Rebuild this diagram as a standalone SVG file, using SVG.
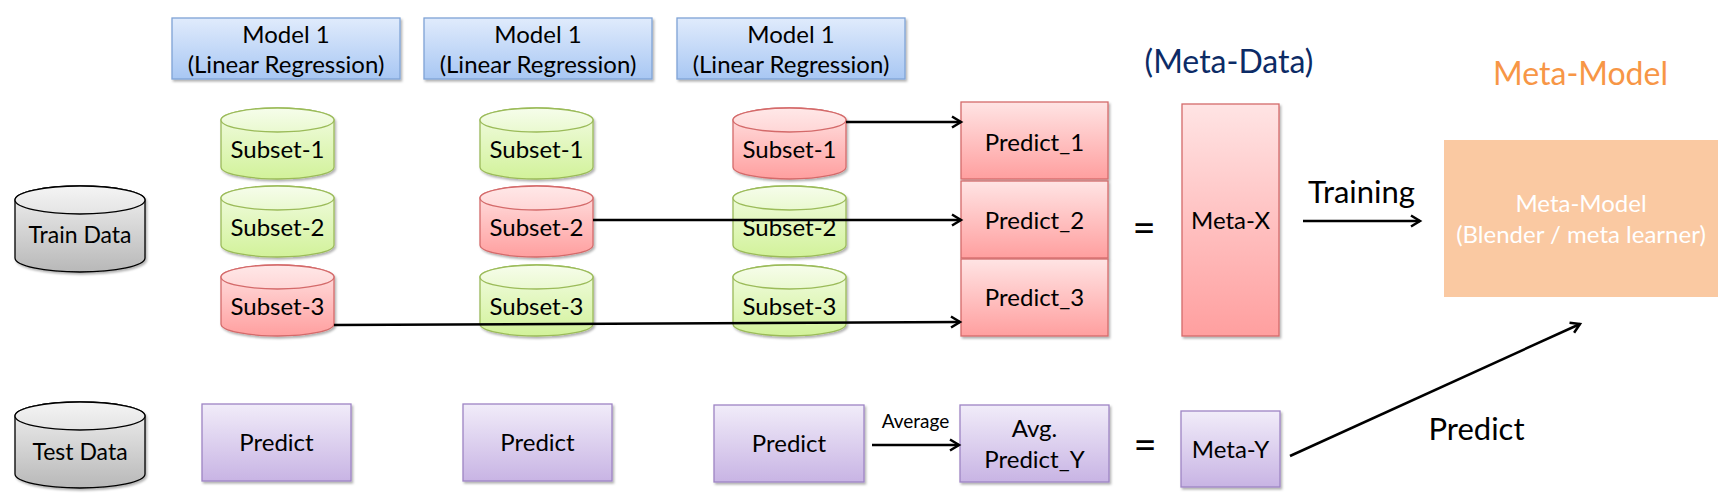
<svg xmlns="http://www.w3.org/2000/svg" xmlns:xlink="http://www.w3.org/1999/xlink" width="1731" height="499" viewBox="0 0 1731 499">
<style>
text{font-family:Lato,"Open Sans","Liberation Sans",sans-serif;text-anchor:middle;fill:#000}
.t24{font-size:24px}
.t23{font-size:23px}
.t19{font-size:19px}
.big{font-size:31px}
.blue{fill:url(#gBlue);stroke:#7fa3d6;stroke-width:1.3}
.green{fill:url(#gGreen);stroke:#9bbb59;stroke-width:1.3}
.greenTop{fill:url(#gGreenTop);stroke:#9bbb59;stroke-width:1.3}
.red{fill:url(#gRed);stroke:#d46a6a;stroke-width:1.3}
.redTop{fill:url(#gRedTop);stroke:#d46a6a;stroke-width:1.3}
.purple{fill:url(#gPurple);stroke:#9d84c4;stroke-width:1.3}
.gray{fill:url(#gGray);stroke:#000;stroke-width:1.3}
.grayTop{fill:url(#gGrayTop);stroke:#000;stroke-width:1.3}
.conn{stroke:#000;stroke-width:2.5;fill:none;marker-end:url(#arr)}
.sh{filter:url(#shadow)}
</style>
<defs>
<linearGradient id="gBlue" x1="0" y1="0" x2="0" y2="1"><stop offset="0" stop-color="#e0ebfc"/><stop offset="1" stop-color="#a8c7f3"/></linearGradient>
<linearGradient id="gGreen" x1="0" y1="0" x2="0" y2="1"><stop offset="0" stop-color="#f3fce4"/><stop offset="1" stop-color="#d2f29a"/></linearGradient>
<linearGradient id="gGreenTop" x1="0" y1="0" x2="0" y2="1"><stop offset="0" stop-color="#f6fdeb"/><stop offset="1" stop-color="#eaf9d0"/></linearGradient>
<linearGradient id="gRed" x1="0" y1="0" x2="0" y2="1"><stop offset="0" stop-color="#ffe4e4"/><stop offset="1" stop-color="#ff9f9f"/></linearGradient>
<linearGradient id="gRedTop" x1="0" y1="0" x2="0" y2="1"><stop offset="0" stop-color="#ffe8e8"/><stop offset="1" stop-color="#ffd6d6"/></linearGradient>
<linearGradient id="gPurple" x1="0" y1="0" x2="0" y2="1"><stop offset="0" stop-color="#f1ecf9"/><stop offset="1" stop-color="#c8b4e4"/></linearGradient>
<linearGradient id="gGray" x1="0" y1="0" x2="0" y2="1"><stop offset="0" stop-color="#f2f2f2"/><stop offset="1" stop-color="#b8b8b8"/></linearGradient>
<linearGradient id="gGrayTop" x1="0" y1="0" x2="0" y2="1"><stop offset="0" stop-color="#f4f4f4"/><stop offset="1" stop-color="#e4e4e4"/></linearGradient>
<filter id="shadow" x="-10%" y="-10%" width="130%" height="130%"><feDropShadow dx="1.5" dy="2" stdDeviation="1.2" flood-color="#000" flood-opacity="0.3"/></filter>
<marker id="arr" markerUnits="userSpaceOnUse" markerWidth="16" markerHeight="16" refX="11" refY="7" orient="auto"><path d="M2,1.5 L11,7 L2,12.5" fill="none" stroke="#000" stroke-width="2.5"/></marker>
<path id="cylS" d="M0,12 A56.5,12 0 0 1 113,12 V59 A56.5,12 0 0 1 0,59 Z"/>
<ellipse id="cylSTop" cx="56.5" cy="12" rx="56.5" ry="12"/>
<path id="cylB" d="M0,14 A65,14 0 0 1 130,14 V72 A65,14 0 0 1 0,72 Z"/>
<ellipse id="cylBTop" cx="65" cy="14" rx="65" ry="14"/>
</defs>
<rect width="1731" height="499" fill="#fff"/>

<!-- Model boxes -->
<g id="model-a"><rect class="blue sh" x="172" y="18" width="228" height="61"/><text class="t24" x="286" y="43">Model 1</text><text class="t24" x="286" y="73">(Linear Regression)</text></g>
<g id="model-b"><rect class="blue sh" x="424" y="18" width="228" height="61"/><text class="t24" x="538" y="43">Model 1</text><text class="t24" x="538" y="73">(Linear Regression)</text></g>
<g id="model-c"><rect class="blue sh" x="677" y="18" width="228" height="61"/><text class="t24" x="791" y="43">Model 1</text><text class="t24" x="791" y="73">(Linear Regression)</text></g>

<!-- Train / Test data -->
<g id="train-data" transform="translate(15,186)"><use href="#cylB" class="gray sh"/><use href="#cylBTop" class="grayTop"/><text class="t23" x="65" y="57">Train Data</text></g>
<g id="test-data" transform="translate(15,402)"><use href="#cylB" class="gray sh"/><use href="#cylBTop" class="grayTop"/><text class="t23" x="65" y="58">Test Data</text></g>

<!-- Column 1 subsets -->
<g id="c1-s1" transform="translate(221,108)"><use href="#cylS" class="green sh"/><use href="#cylSTop" class="greenTop"/><text class="t24" x="56.5" y="50">Subset-1</text></g>
<g id="c1-s2" transform="translate(221,186)"><use href="#cylS" class="green sh"/><use href="#cylSTop" class="greenTop"/><text class="t24" x="56.5" y="50">Subset-2</text></g>
<g id="c1-s3" transform="translate(221,265)"><use href="#cylS" class="red sh"/><use href="#cylSTop" class="redTop"/><text class="t24" x="56.5" y="50">Subset-3</text></g>
<!-- Column 2 subsets -->
<g id="c2-s1" transform="translate(480,108)"><use href="#cylS" class="green sh"/><use href="#cylSTop" class="greenTop"/><text class="t24" x="56.5" y="50">Subset-1</text></g>
<g id="c2-s2" transform="translate(480,186)"><use href="#cylS" class="red sh"/><use href="#cylSTop" class="redTop"/><text class="t24" x="56.5" y="50">Subset-2</text></g>
<g id="c2-s3" transform="translate(480,265)"><use href="#cylS" class="green sh"/><use href="#cylSTop" class="greenTop"/><text class="t24" x="56.5" y="50">Subset-3</text></g>
<!-- Column 3 subsets -->
<g id="c3-s1" transform="translate(733,108)"><use href="#cylS" class="red sh"/><use href="#cylSTop" class="redTop"/><text class="t24" x="56.5" y="50">Subset-1</text></g>
<g id="c3-s2" transform="translate(733,186)"><use href="#cylS" class="green sh"/><use href="#cylSTop" class="greenTop"/><text class="t24" x="56.5" y="50">Subset-2</text></g>
<g id="c3-s3" transform="translate(733,265)"><use href="#cylS" class="green sh"/><use href="#cylSTop" class="greenTop"/><text class="t24" x="56.5" y="50">Subset-3</text></g>

<!-- Lower predict boxes -->
<g id="pred-a"><rect class="purple sh" x="202" y="404" width="149" height="77"/><text class="t24" x="276.5" y="451">Predict</text></g>
<g id="pred-b"><rect class="purple sh" x="463" y="404" width="149" height="77"/><text class="t24" x="537.5" y="451">Predict</text></g>
<g id="pred-c"><rect class="purple sh" x="714" y="405" width="150" height="77"/><text class="t24" x="789" y="452">Predict</text></g>
<g id="avg-pred"><rect class="purple sh" x="960" y="405" width="149" height="77"/><text class="t24" x="1034.5" y="437">Avg.</text><text class="t24" x="1034.5" y="468">Predict_Y</text></g>

<!-- Predict_n boxes -->
<g id="predict-1"><rect class="red sh" x="961" y="102" width="147" height="77"/><text class="t24" x="1034.5" y="151">Predict_1</text></g>
<g id="predict-2"><rect class="red sh" x="961" y="181" width="147" height="77"/><text class="t24" x="1034.5" y="229">Predict_2</text></g>
<g id="predict-3"><rect class="red sh" x="961" y="259" width="147" height="77"/><text class="t24" x="1034.5" y="306">Predict_3</text></g>

<!-- Meta data -->
<g id="meta-data-title"><text x="1229" y="73" style="font-size:32px;fill:#0c2b66">(Meta-Data)</text></g>
<g id="eq-1"><text x="1144" y="242" style="font-size:40px">=</text></g>
<g id="eq-2"><text x="1145" y="459" style="font-size:40px">=</text></g>
<g id="meta-x"><rect class="red sh" x="1182" y="104" width="97" height="232"/><text class="t24" x="1230.5" y="229">Meta-X</text></g>
<g id="meta-y"><rect class="purple sh" x="1181" y="411" width="99" height="76"/><text class="t24" x="1230.5" y="458">Meta-Y</text></g>

<!-- Meta model -->
<g id="meta-model-title"><text x="1580.5" y="85" style="font-size:32px;fill:#f79646">Meta-Model</text></g>
<g id="meta-model"><rect x="1444" y="140" width="274" height="157" fill="#fac9a2"/><text class="t24" x="1581" y="212" style="fill:#fff">Meta-Model</text><text class="t24" x="1581" y="243" style="fill:#fff">(Blender / meta learner)</text></g>

<!-- Connectors -->
<g id="connectors">
<line class="conn" x1="846" y1="122" x2="961" y2="122"/>
<line class="conn" x1="593" y1="220" x2="961" y2="220"/>
<line class="conn" x1="334" y1="325" x2="960" y2="322"/>
<line class="conn" x1="872" y1="445" x2="959" y2="445"/>
<line class="conn" x1="1303" y1="221" x2="1420" y2="221"/>
<line class="conn" x1="1290" y1="456" x2="1580" y2="324"/>
<text class="t19" x="915.5" y="428">Average</text>
<text class="big" x="1361.5" y="203">Training</text>
<text class="big" x="1476.5" y="440">Predict</text>
</g>
</svg>
